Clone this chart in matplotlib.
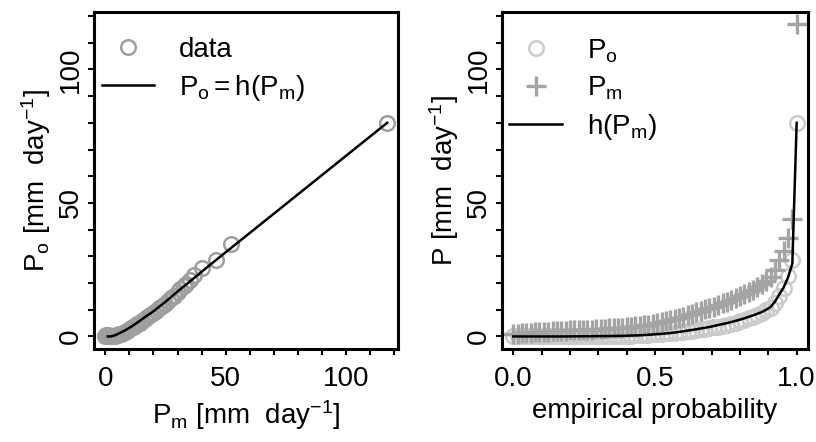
import numpy as np
import matplotlib
matplotlib.use('Agg')
import matplotlib.pyplot as plt

plt.rcParams['font.family'] = ['Liberation Sans', 'DejaVu Sans']
plt.rcParams['mathtext.fontset'] = 'custom'
plt.rcParams['mathtext.rm'] = 'Liberation Sans'
plt.rcParams['mathtext.it'] = 'Liberation Sans:italic'
plt.rcParams['mathtext.bf'] = 'Liberation Sans:bold'

# =============================================
# data
# =============================================
# left panel: model vs observed values
left_pm = [0.0, 0.3, 0.6, 1.0, 1.4, 1.8, 2.2, 2.6, 3.0, 3.5,
           4.0, 4.6, 5.2, 5.8, 6.5, 7.2, 8.0, 8.8, 9.6, 10.5,
           11.4, 12.3, 13.3, 14.3, 15.3, 16.4, 17.5, 18.6, 19.8, 21.0,
           22.2, 23.5, 24.8, 26.0, 27.3, 28.6, 30.0, 31.2, 32.5, 33.5,
           35.0, 37.0, 40.0, 46.0, 52.0, 117.0]
left_po = [0.0, 0.5, 0.0, 0.6, 0.2, 0.0, 0.3, 0.0, 0.1, 0.2,
           0.3, 0.4, 0.6, 0.8, 1.1, 1.4, 1.7, 2.1, 2.5, 3.0,
           3.5, 4.0, 4.6, 5.2, 5.9, 6.6, 7.3, 8.0, 8.8, 9.6,
           10.5, 11.4, 12.3, 13.3, 14.3, 15.3, 16.6, 17.8, 18.9, 19.8,
           21.0, 23.0, 25.8, 28.5, 34.8, 80.0]

# right panel: 66 ranked values, empirical probability 0..1
prob = np.arange(66) / 65.0

pm_sorted = [1.0, 1.1, 1.2, 1.3, 1.4, 1.5, 1.6, 1.7, 1.8, 1.9,
             2.0, 2.1, 2.2, 2.3, 2.35, 2.4, 2.5, 2.55, 2.6, 2.7,
             2.8, 2.9, 3.0, 3.1, 3.2, 3.3, 3.45, 3.6, 3.75, 3.95,
             4.2, 4.45, 4.7, 5.0, 5.3, 5.6, 6.0, 6.4, 6.9, 7.4,
             8.0, 8.5, 9.0, 9.6, 10.1, 10.6, 11.2, 11.8, 12.4, 13.0,
             13.6, 14.3, 15.0, 15.8, 16.6, 17.5, 18.5, 19.6, 20.8, 22.2,
             25.0, 28.5, 32.0, 37.0, 44.0, 117.0]

po_sorted = [0.0] * 23 + [
    0.05, 0.1, 0.15, 0.2, 0.3, 0.4, 0.5,
    0.6, 0.7, 0.8, 0.9, 1.0, 1.15, 1.3, 1.45, 1.6, 1.8,
    2.0, 2.2, 2.4, 2.65, 2.9, 3.15, 3.4, 3.7, 4.0, 4.4,
    4.8, 5.2, 5.7, 6.2, 6.8, 7.4, 8.1, 8.9, 9.8, 10.8,
    12.5, 15.0, 18.0, 22.5, 28.7, 80.0]

# transfer function h evaluated at pm_sorted
h_pm = [0.0] * 11 + [
    0.0, 0.02, 0.03, 0.04, 0.05, 0.07, 0.08, 0.09, 0.1,
    0.12, 0.13, 0.15, 0.18, 0.21, 0.24, 0.28, 0.33, 0.37, 0.43,
    0.53, 0.63, 0.73, 0.85, 0.98, 1.12, 1.3, 1.48, 1.7, 1.93,
    2.2, 2.45, 2.7, 3.0, 3.26, 3.56, 3.92, 4.28, 4.65, 5.0,
    5.4, 5.85, 6.3, 6.8, 7.35, 7.9, 8.5, 9.15, 10.0, 11.0,
    13.0, 15.7, 18.3, 22.0, 27.2, 80.0]

unit = r'[mm  day$^{-1}$]'

# =============================================
# figure
# =============================================
fig = plt.figure(figsize=(8.16, 4.42), dpi=100)
ax1 = fig.add_axes([94 / 816, 93 / 442, 304 / 816, 337 / 442])
ax2 = fig.add_axes([502 / 816, 93 / 442, 306 / 816, 337 / 442])

# left: model vs observed
ax1.plot(left_pm, left_po, 'o', ms=10.5, mfc='none', mec='#9e9e9e', mew=1.8,
         label='data')
ax1.plot(pm_sorted, h_pm, '-', color='black', lw=1.8,
         label=r'$\mathrm{P_o = h(P_m)}$')
ax1.set_xlim(-4.7, 121.5)
ax1.set_ylim(-4.7, 121.5)
ax1.set_xticks([0, 50, 100])
ax1.set_xticks(np.arange(0, 121, 10), minor=True)
ax1.set_xlabel(r'$\mathrm{P_m}$ ' + unit, fontsize=20, labelpad=4)
ax1.set_ylabel(r'$\mathrm{P_o}$ ' + unit, fontsize=20, labelpad=3)

# right: empirical distributions
ax2.plot(prob, po_sorted, 'o', ms=10.5, mfc='none', mec='#cbcbcb', mew=1.8,
         label=r'$\mathrm{P_o}$')
ax2.plot(prob, pm_sorted, '+', ms=14, mec='#a4a4a4', mew=2.4,
         label=r'$\mathrm{P_m}$')
ax2.plot(prob, h_pm, '-', color='black', lw=1.8,
         label=r'$\mathrm{h(P_m)}$')
ax2.set_xlim(-0.04, 1.04)
ax2.set_ylim(-4.7, 121.5)
ax2.set_xticks([0.0, 0.5, 1.0])
ax2.set_xticklabels(['0.0', '0.5', '1.0'])
ax2.set_xticks(np.arange(0, 1.01, 0.1), minor=True)
ax2.set_xlabel('empirical probability', fontsize=20, labelpad=4)
ax2.set_ylabel(r'P ' + unit, fontsize=20, labelpad=3)

for ax in (ax1, ax2):
    ax.set_yticks([0, 50, 100])
    ax.set_yticks(np.arange(0, 121, 10), minor=True)
    for s in ax.spines.values():
        s.set_linewidth(2.2)
    ax.tick_params(which='both', direction='out', length=4.5, width=1.5,
                   labelsize=20)
    ax.tick_params(axis='x', pad=8)
    ax.tick_params(axis='y', pad=3, labelrotation=90)
    for lab in ax.get_yticklabels():
        lab.set_va('center')
    ax.legend(loc='upper left', bbox_to_anchor=(-0.03, 0.975), frameon=False,
              fontsize=20, handlelength=1.9, handletextpad=0.9,
              labelspacing=0.35, borderaxespad=0.2)

fig.savefig('out.png', dpi=100)
